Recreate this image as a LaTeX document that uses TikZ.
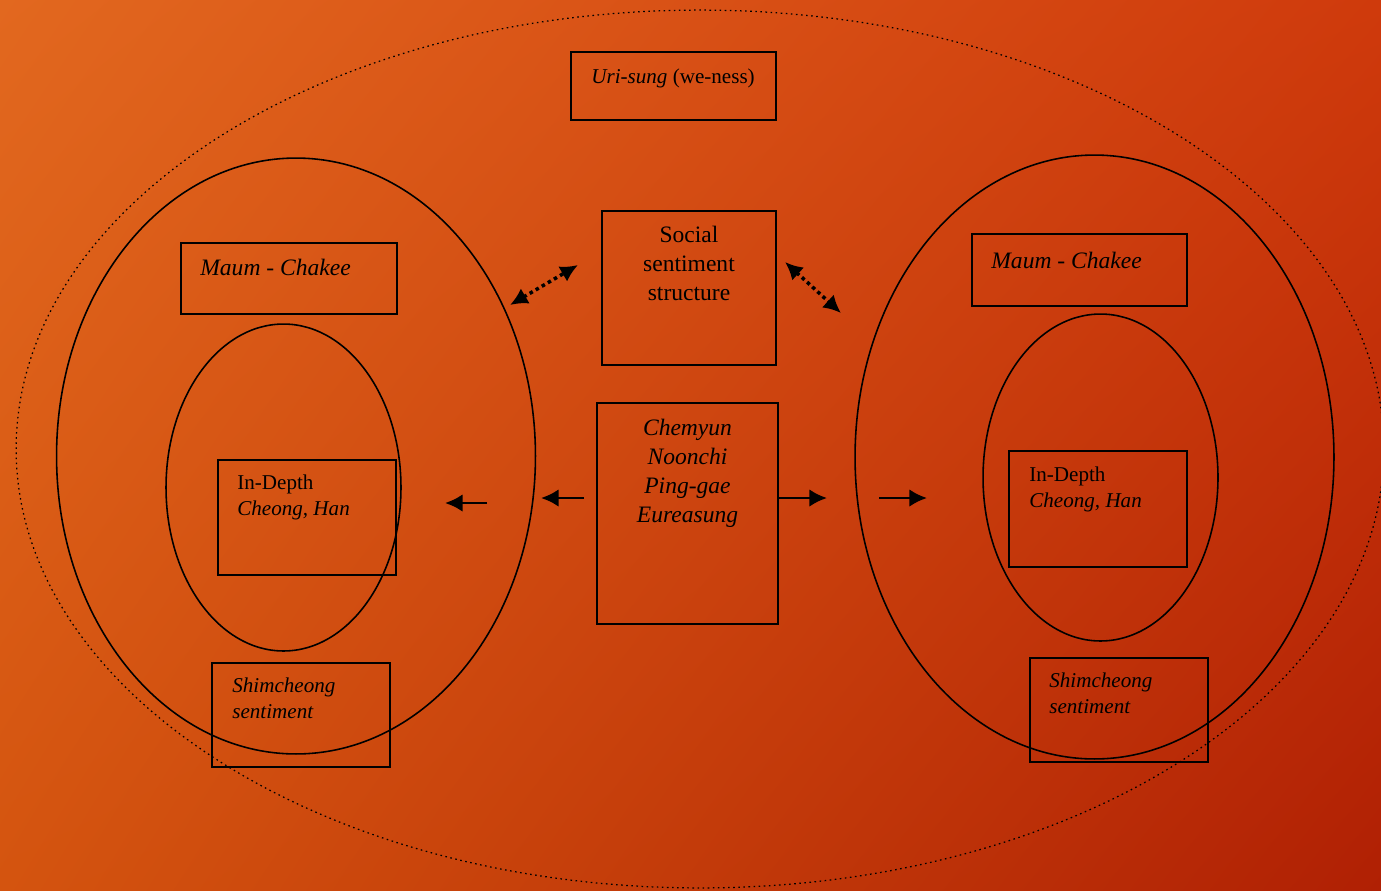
\documentclass[tikz,border=0pt]{standalone}
\usepackage{fontspec}
\setmainfont{Liberation Serif}
\usepackage{tikz}
\usetikzlibrary{shapes.geometric,arrows.meta,shadings}
\usepackage{xcolor}
\definecolor{bgA}{HTML}{E2681F}
\definecolor{bgB}{HTML}{CF3A0C}
\definecolor{bgC}{HTML}{D4540F}
\definecolor{bgD}{HTML}{B02004}

\begin{document}
\begin{tikzpicture}[x=0.02cm,y=-0.02cm]

		\shade[upper left=bgA, upper right=bgB, lower left=bgC, lower right=bgD] (0,0) rectangle (1381,890);
		\useasboundingbox (0,0) rectangle (1381,890);
		\tikzset{boite/.style={draw, line width=1pt, rectangle, inner sep=0pt}}
		\tikzset{rond/.style={draw, line width=0.9pt, ellipse, inner sep=0pt}}
		\tikzset{grand/.style={font=\fontsize{13.4}{16.4}\selectfont, inner sep=0pt, align=center}}
		\tikzset{petit/.style={font=\fontsize{12}{14.6}\selectfont, inner sep=0pt, align=left}}
		\tikzset{fleche/.style={line width=1.6pt, -{Latex[length=10pt,width=10pt]}}}
		\tikzset{lien/.style={line width=2pt, dash pattern=on 2pt off 2pt, {Latex[length=10pt,width=10pt]}-{Latex[length=10pt,width=10pt]}}}

		% ovales
		\node[rond, dotted, line width=0.7pt, minimum width=27.36cm, minimum height=17.56cm] (OUT) at (700,449) {};
		\node[rond, minimum width=9.58cm, minimum height=11.92cm] (GL) at (296,456) {};
		\node[rond, minimum width=4.7cm, minimum height=6.54cm] (IL) at (283.5,487.5) {};
		\node[rond, minimum width=9.58cm, minimum height=12.08cm] (GR) at (1094.5,457) {};
		\node[rond, minimum width=4.7cm, minimum height=6.54cm] (IR) at (1100.5,477.5) {};

		% boites
		\node[boite, minimum width=4.1cm, minimum height=1.36cm] (URI) at (673.5,86) {};
		\node[boite, minimum width=3.48cm, minimum height=3.08cm] (SOC) at (689,288) {};
		\node[boite, minimum width=3.62cm, minimum height=4.42cm] (CHE) at (687.5,513.5) {};
		\node[boite, minimum width=4.32cm, minimum height=1.42cm] (MCL) at (289,278.5) {};
		\node[boite, minimum width=3.56cm, minimum height=2.3cm] (DEL) at (307,517.5) {};
		\node[boite, minimum width=3.56cm, minimum height=2.08cm] (SHL) at (301,715) {};
		\node[boite, minimum width=4.3cm, minimum height=1.44cm] (MCR) at (1079.5,270) {};
		\node[boite, minimum width=3.56cm, minimum height=2.32cm] (DER) at (1098,509) {};
		\node[boite, minimum width=3.56cm, minimum height=2.08cm] (SHR) at (1119,710) {};

		% textes (base = derniere ligne)
		\node[petit, anchor=base west] (tURI) at (591,83) {\textit{Uri-sung} (we-ness)};
		\node[grand, anchor=base] (tSOC) at (689,300) {Social\\sentiment\\structure};
		\node[grand, anchor=base] (tCHE) at (687.5,522) {\textit{Chemyun}\\\textit{Noonchi}\\\textit{Ping-gae}\\\textit{Eureasung}};
		\node[grand, anchor=base west] (tMCL) at (200,275) {\textit{Maum - Chakee}};
		\node[grand, anchor=base west] (tMCR) at (991,268) {\textit{Maum - Chakee}};
		\node[petit, anchor=base west] (tDEL) at (237,515) {In-Depth\\\textit{Cheong, Han}};
		\node[petit, anchor=base west] (tDER) at (1029,507) {In-Depth\\\textit{Cheong, Han}};
		\node[petit, anchor=base west] (tSHL) at (232,718) {\textit{Shimcheong}\\\textit{sentiment}};
		\node[petit, anchor=base west] (tSHR) at (1049,713) {\textit{Shimcheong}\\\textit{sentiment}};

		% fleches
		\coordinate (a1) at (584,498);
		\coordinate (a2) at (541,498);
		\coordinate (a3) at (487,503);
		\coordinate (a4) at (445,503);
		\coordinate (b2) at (827,498);
		\coordinate (b3) at (879,498);
		\coordinate (b4) at (927,498);
		\coordinate (c1) at (578,265);
		\coordinate (c2) at (510,305);
		\coordinate (d1) at (785,262);
		\coordinate (d2) at (841,313);

    \draw[fleche] (a1) -- (a2);
    \draw[fleche] (a3) -- (a4);
    \draw[fleche] (CHE.east |- b2) -- (b2);
    \draw[fleche] (b3) -- (b4);
    \draw[lien] (c2) -- (c1);
    \draw[lien] (d1) -- (d2);

		\end{tikzpicture}
\end{document}
